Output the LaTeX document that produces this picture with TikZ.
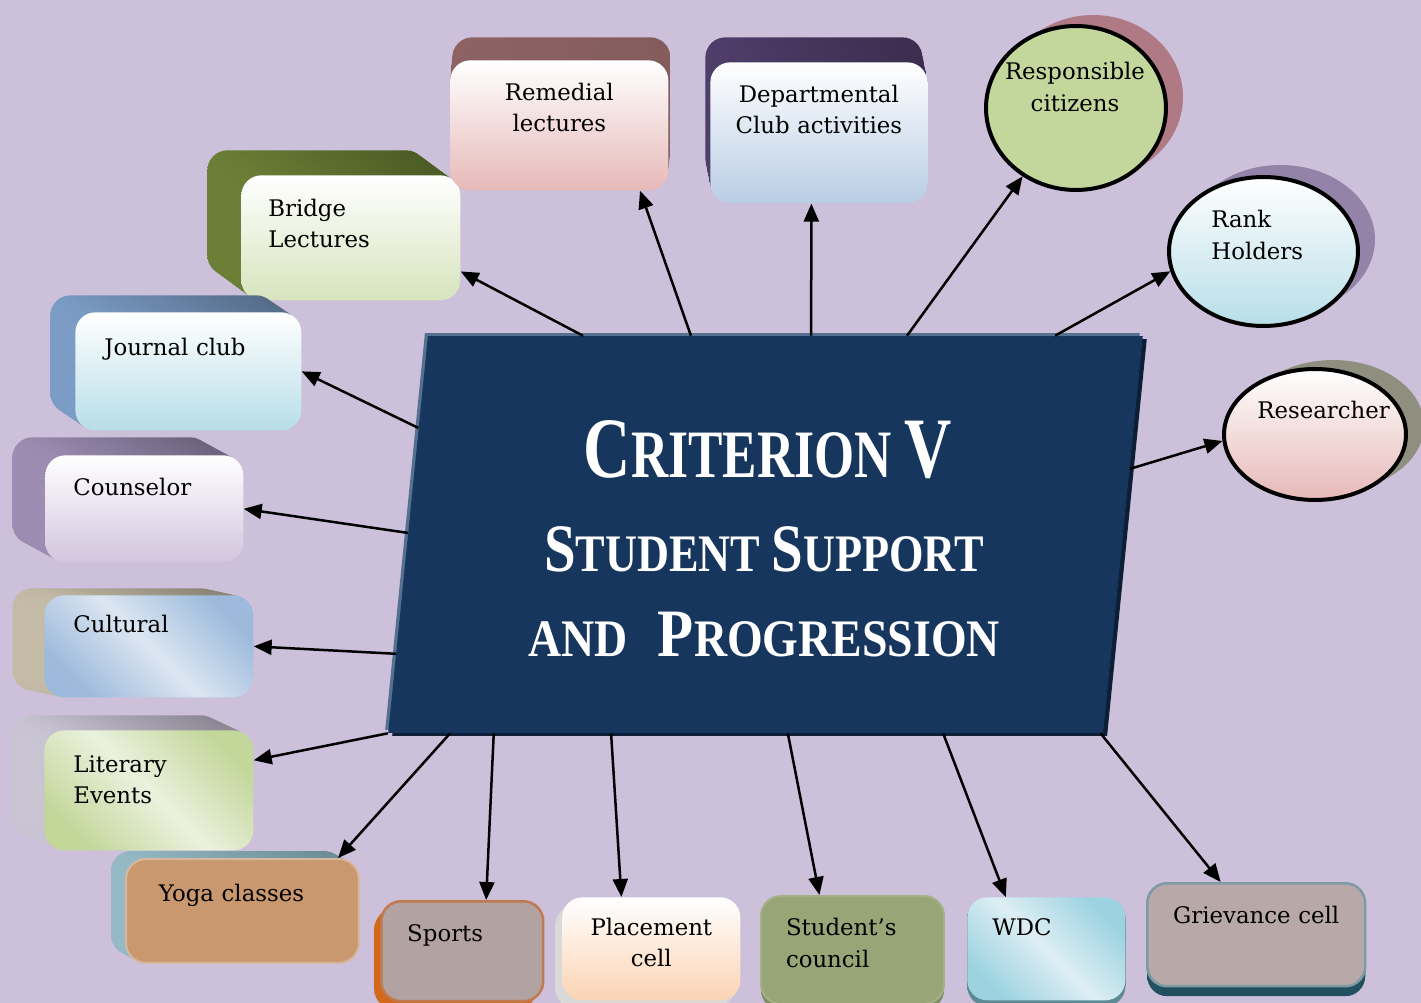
\documentclass[tikz,border=0pt]{standalone}
\usepackage{fontspec}
\setmainfont{DejaVu Serif}
\newfontfamily\titlefont{Liberation Serif}
\usepackage{graphicx}
\usepackage{tikz}
\usetikzlibrary{shapes.geometric}
\usetikzlibrary{shadows}
\usetikzlibrary{calc}
\usetikzlibrary{arrows.meta}

\definecolor{backdrop}{HTML}{CCC0DA}
\definecolor{critblue}{HTML}{17365D}
\definecolor{critlight}{HTML}{56708F}
\definecolor{critdark}{HTML}{0D1F36}
\definecolor{bridgeside}{HTML}{6B7F36}
\definecolor{bridgetop}{HTML}{4A5A24}
\definecolor{bridgelow}{HTML}{D7E4BD}
\definecolor{remside}{HTML}{8E6262}
\definecolor{remtop}{HTML}{845C5C}
\definecolor{remlow}{HTML}{E6B9B8}
\definecolor{deptside}{HTML}{4E3E6A}
\definecolor{depttop}{HTML}{3C2C4E}
\definecolor{deptlow}{HTML}{B9CDE5}
\definecolor{jourside}{HTML}{7B9CC5}
\definecolor{jourtop}{HTML}{536985}
\definecolor{jourlow}{HTML}{B7DEE8}
\definecolor{counside}{HTML}{9D8DB3}
\definecolor{countop}{HTML}{6A5F79}
\definecolor{counlow}{HTML}{D3C5DF}
\definecolor{cultside}{HTML}{C4BCA7}
\definecolor{culttop}{HTML}{857F70}
\definecolor{cultpale}{HTML}{DCE6F2}
\definecolor{cultblue}{HTML}{9DBADC}
\definecolor{litside}{HTML}{C9C5D3}
\definecolor{littop}{HTML}{87828E}
\definecolor{litpale}{HTML}{EBF1DE}
\definecolor{litgreen}{HTML}{C4D79B}
\definecolor{yogaside}{HTML}{95BAC6}
\definecolor{yogatop}{HTML}{6A8990}
\definecolor{yogafill}{HTML}{C9986F}
\definecolor{yogaedge}{HTML}{D6B8A0}
\definecolor{sportside}{HTML}{D2691A}
\definecolor{sportfill}{HTML}{B2A2A1}
\definecolor{sportedge}{HTML}{C07A50}
\definecolor{placeside}{HTML}{D9D9D9}
\definecolor{placelow}{HTML}{FBD4B4}
\definecolor{counclside}{HTML}{7F8B60}
\definecolor{counclfill}{HTML}{97A577}
\definecolor{counecledge}{HTML}{A5B185}
\definecolor{wdcside}{HTML}{5E8A95}
\definecolor{wdcpale}{HTML}{DDEEF4}
\definecolor{wdcblue}{HTML}{9DD3E1}
\definecolor{grievside}{HTML}{215160}
\definecolor{grievfill}{HTML}{B8A9A8}
\definecolor{grievedge}{HTML}{7E9AA3}
\definecolor{respfill}{HTML}{C3D69B}
\definecolor{respshade}{HTML}{B07A85}
\definecolor{ranklow}{HTML}{B7DEE8}
\definecolor{rankshade}{HTML}{9383A8}
\definecolor{reslow}{HTML}{E6B9B8}
\definecolor{resshade}{HTML}{8F8F80}

\newcommand\capfont[1]{\fontsize{#1}{#1}\selectfont}

\tikzset{
   face/.style n args={4}{rectangle, rounded corners=0.4cm, anchor=north west,
      inner xsep=#1cm, inner ysep=#2cm, text width=#3cm,
      text height=0.34cm, text depth=#4cm, align=left,
      font=\fontsize{13}{18}\selectfont},
   slabpart/.style n args={5}{
      general shadow={left color=#1, right color=#2, shadow xshift=#3*#5cm, shadow yshift=#4*#5cm}},
   slab/.style n args={4}{
      slabpart={#1}{#2}{#3}{#4}{1}, slabpart={#1}{#2}{#3}{#4}{0.875},
      slabpart={#1}{#2}{#3}{#4}{0.75}, slabpart={#1}{#2}{#3}{#4}{0.625},
      slabpart={#1}{#2}{#3}{#4}{0.5}, slabpart={#1}{#2}{#3}{#4}{0.375},
      slabpart={#1}{#2}{#3}{#4}{0.25}, slabpart={#1}{#2}{#3}{#4}{0.125}},
   bubble/.style={ellipse, draw=black, line width=0.08cm, inner sep=0pt},
   lbl/.style={font=\fontsize{13}{18}\selectfont, text width=3.4cm, text height=0.34cm,
      inner sep=0pt, anchor=base west, align=left},
   crittitle/.style={font=\titlefont\bfseries, text=white, inner sep=0pt, anchor=base},
   link/.style={line width=0.05cm, -{Triangle[length=0.36cm,width=0.3cm]}}
}

\begin{document}
\begin{tikzpicture}[x=0.02cm, y=-0.02cm]
   \fill[backdrop] (0,0) rectangle (1421,1003);
   \useasboundingbox (0,0) rectangle (1421,1003);

   % the criterion block
   \begin{scope}[shift={(765.5,534.5)}]
      \node[rectangle, fill=critblue, minimum width=14.3cm, minimum height=7.94cm,
         inner sep=0pt, xslant=0.1, transform shape,
         general shadow={fill=critlight, shadow xshift=-0.06cm, shadow yshift=0.06cm},
         general shadow={fill=critdark, shadow xshift=0.08cm, shadow yshift=-0.06cm}] (crit) at (0,0) {};
   \end{scope}

   \node[crittitle] (crit-t1) at (768,478)
      {\scalebox{0.76}[1]{\capfont{49}C\capfont{38.6}RITERION \capfont{49}V}};
   \node[crittitle] (crit-t2) at (764,572)
      {\scalebox{0.84}[1]{\capfont{38.6}S\capfont{30}TUDENT \capfont{38.6}S\capfont{30}UPPORT}};
   \node[crittitle] (crit-t3) at (764,657)
      {\scalebox{0.87}[1]{\capfont{30}AND\hspace{0.7cm}\capfont{38.6}P\capfont{30}ROGRESSION}};

   % upper and left boxes
   \node[face={0.54}{0.48}{3.30}{1.20}, slab={bridgeside}{bridgetop}{-0.68}{0.50},
      top color=white, bottom color=bridgelow] (bridge) at (241,175) {Bridge\\Lectures};
   \node[face={0}{0.46}{4.36}{1.34}, align=center, slab={remside}{remtop}{0.04}{0.46},
      top color=white, bottom color=remlow] (remedial) at (450,60) {Remedial\\lectures};
   \node[face={0}{0.46}{4.34}{1.56}, align=center, slab={deptside}{depttop}{-0.10}{0.50},
      top color=white, bottom color=deptlow] (dept) at (710,62) {Departmental\\Club activities};
   \node[face={0.58}{0.52}{3.36}{0.98}, slab={jourside}{jourtop}{-0.50}{0.34},
      top color=white, bottom color=jourlow] (journal) at (75,312) {Journal club};
   \node[face={0.56}{0.46}{2.84}{0.88}, slab={counside}{countop}{-0.66}{0.36},
      top color=white, bottom color=counlow] (counselor) at (45,455) {Counselor};
   \node[face={0.58}{0.40}{3.02}{0.90}, slab={cultside}{culttop}{-0.64}{0.14},
      top color=cultblue, bottom color=cultblue, middle color=cultpale, shading angle=-45] (cultural) at (44,595) {Cultural};
   \node[face={0.58}{0.50}{3.02}{1.06}, slab={litside}{littop}{-0.64}{0.30},
      top color=litgreen, bottom color=litgreen, middle color=litpale, shading angle=-45] (literary) at (44,730) {Literary\\Events};
   \node[face={0.66}{0.52}{3.34}{0.70}, slab={yogaside}{yogatop}{-0.30}{0.16},
      fill=yogafill, draw=yogaedge, line width=0.04cm] (yoga) at (125,858) {Yoga classes};

   % bottom row
   \node[face={0.52}{0.46}{2.20}{0.74}, slab={sportside}{sportside}{-0.14}{-0.16},
      fill=sportfill, draw=sportedge, line width=0.05cm] (sports) at (380,900) {Sports};
   \node[face={0}{0.42}{3.56}{0.88}, align=center, slab={placeside}{placeside}{-0.14}{-0.16},
      top color=white, bottom color=placelow] (placement) at (562,897) {Placement\\cell};
   \node[face={0.50}{0.46}{2.66}{0.90}, slab={counclside}{counclside}{0}{-0.12},
      fill=counclfill, draw=counecledge, line width=0.04cm] (council) at (760,895) {Student’s\\council};
   \node[face={0.50}{0.42}{2.16}{0.88}, slab={wdcside}{wdcside}{0}{-0.12},
      top color=wdcblue, bottom color=wdcblue, middle color=wdcpale, shading angle=-45] (wdc) at (967,897) {WDC};
   \node[face={0}{0.46}{4.36}{0.80}, align=center, slab={grievside}{grievside}{0}{-0.20},
      fill=grievfill, draw=grievedge, line width=0.05cm] (grievance) at (1146,882) {Grievance cell};

   % ellipses on the right
   \node[bubble, fill=respfill, minimum width=3.6cm, minimum height=3.28cm,
      general shadow={fill=respshade, shadow xshift=0.34cm, shadow yshift=0.22cm}] (resp) at (1076,108) {};
   \node[lbl, anchor=base, align=center] (resp-text) at (1075,80) {Responsible\\citizens};
   \node[bubble, top color=white, bottom color=ranklow, minimum width=3.78cm, minimum height=2.98cm,
      general shadow={fill=rankshade, shadow xshift=0.34cm, shadow yshift=0.24cm}] (rank) at (1263.5,251.5) {};
   \node[lbl] (rank-text) at (1211,228) {Rank\\Holders};
   \node[bubble, top color=white, bottom color=reslow, minimum width=3.64cm, minimum height=2.62cm,
      general shadow={fill=resshade, shadow xshift=0.36cm, shadow yshift=0.18cm}] (res) at (1315,434.5) {};
   \node[lbl] (res-text) at (1257,419) {Researcher};

   % connectors
   \draw[link] ($(crit.north west)!0.217!(crit.north east)$) -- (bridge.-17);
   \draw[link] ($(crit.north west)!0.368!(crit.north east)$) -- (remedial.-39);
   \draw[link] ($(crit.north west)!0.536!(crit.north east)$) -- (dept.-96);
   \draw[link] ($(crit.north west)!0.670!(crit.north east)$) -- (resp.-128);
   \draw[link] ($(crit.north west)!0.877!(crit.north east)$) -- (rank.192);
   \draw[link] ($(crit.north east)!0.335!(crit.south east)$) -- (res.184);
   \draw[link] ($(crit.north west)!0.232!(crit.south west)$) -- (journal.east);
   \draw[link] ($(crit.north west)!0.496!(crit.south west)$) -- (counselor.east);
   \draw[link] ($(crit.north west)!0.80!(crit.south west)$) -- (cultural.east);
   \draw[link] (crit.south west) -- (literary.16);
   \draw[link] ($(crit.south west)!0.087!(crit.south east)$) -- (yoga.29);
   \draw[link] ($(crit.south west)!0.148!(crit.south east)$) -- (sports.65);
   \draw[link] ($(crit.south west)!0.312!(crit.south east)$) -- (placement.120);
   \draw[link] ($(crit.south west)!0.559!(crit.south east)$) -- (council.121);
   \draw[link] ($(crit.south west)!0.776!(crit.south east)$) -- (wdc.128);
   \draw[link] ($(crit.south west)!0.996!(crit.south east)$) -- (grievance.124);
\end{tikzpicture}
\end{document}
